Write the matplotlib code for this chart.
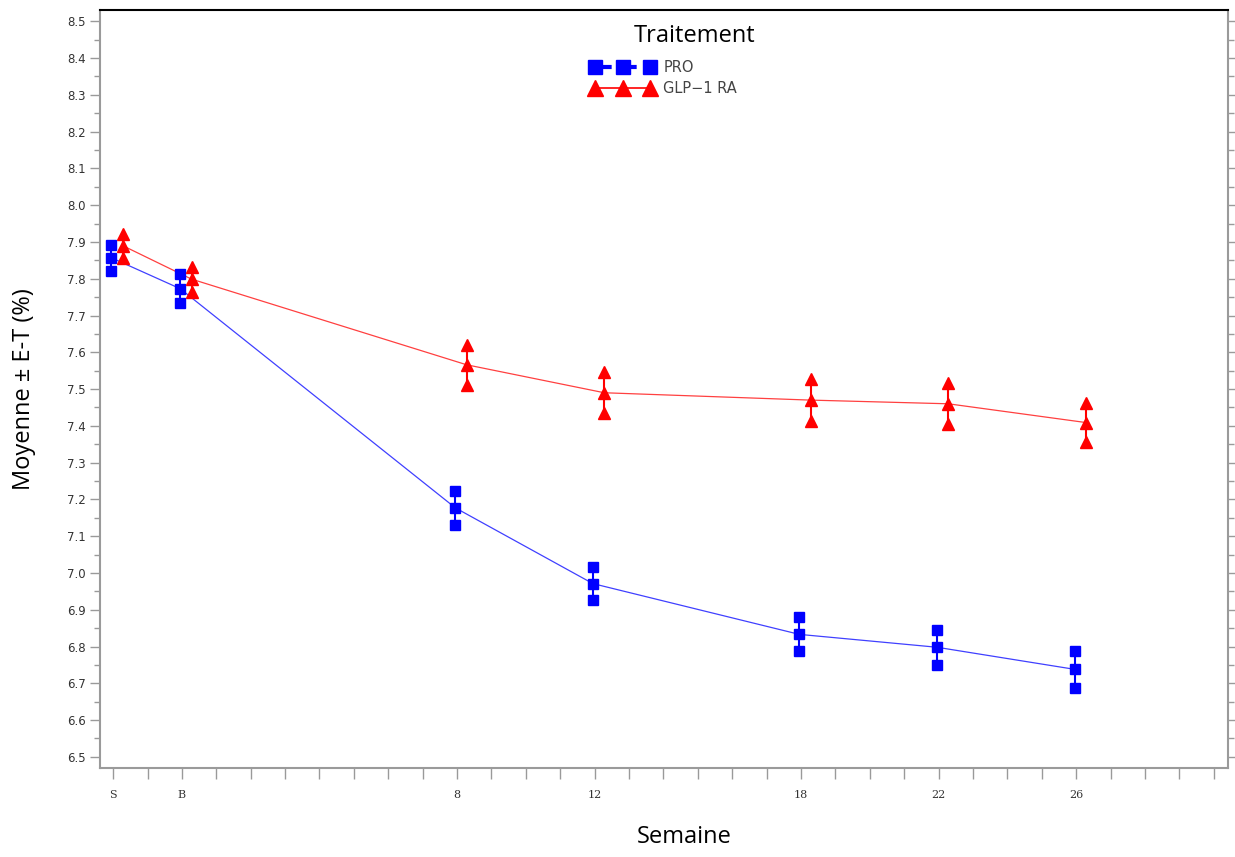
#! /usr/bin/env python3

import numpy as np
import matplotlib
matplotlib.use("Agg")
import matplotlib.pyplot as plt
from matplotlib.lines import Line2D

# semaines (S = -2, B = 0)
weeks = [-2, 0, 8, 12, 18, 22, 26]
week_labels = ["S", "B", "8", "12", "18", "22", "26"]

pro_mean = [7.857, 7.773, 7.177, 6.971, 6.833, 6.798, 6.738]
pro_se = [0.035, 0.040, 0.046, 0.045, 0.046, 0.047, 0.050]

glp_mean = [7.890, 7.799, 7.566, 7.490, 7.470, 7.460, 7.409]
glp_se = [0.033, 0.034, 0.054, 0.056, 0.058, 0.056, 0.052]

series_names = ["PRO", "GLP\u22121 RA"]

fig = plt.figure(figsize=(12.35, 8.57), dpi=100)
ax = fig.add_axes([0.081, 0.104, 0.913, 0.884])

grey = "#9a9a9a"

def draw(x, m, s, color, marker, ms):
    x = np.array(x, dtype=float)
    m = np.array(m)
    s = np.array(s)
    ax.plot(x, m, color=color, lw=0.9, alpha=0.75, zorder=2)
    ax.vlines(x, m - s, m + s, color=color, lw=1.5, zorder=3)
    for yy in (m - s, m, m + s):
        ax.plot(x, yy, ls="none", marker=marker, ms=ms, color=color,
                mec=color, zorder=4)

draw(np.array(weeks) - 0.05, pro_mean, pro_se, "#0000ff", "s", 7.5)
draw(np.array(weeks) + 0.28, glp_mean, glp_se, "#ff0000", "^", 8.5)

ax.set_xlim(-2.38, 30.4)
ax.set_ylim(6.47, 8.53)

xt = list(range(-2, 31))
xl = [week_labels[weeks.index(w)] if w in weeks else "" for w in xt]
ax.set_xticks(xt, xl)
ax.set_yticks(np.round(np.arange(6.5, 8.51, 0.1), 2))
ax.set_yticklabels([f"{v:.1f}" for v in np.arange(6.5, 8.51, 0.1)])
ax.set_yticks(np.arange(6.55, 8.5, 0.1), minor=True)

ax.tick_params(axis="x", direction="out", length=8, width=1, color=grey,
               labelsize=8, labelcolor="#333333", pad=8)
ax.tick_params(axis="y", which="major", direction="out", length=7, width=1,
               color=grey, labelsize=8.5, labelcolor="#333333", right=True)
ax.tick_params(axis="y", which="minor", direction="out", length=4, width=1,
               color=grey, right=True)
for lab in ax.get_xticklabels():
    lab.set_family("DejaVu Serif")

for side in ["left", "right", "bottom"]:
    ax.spines[side].set_color(grey)
    ax.spines[side].set_linewidth(1.5)
ax.spines["top"].set_color("black")
ax.spines["top"].set_linewidth(1.5)

ax.set_ylabel("Moyenne \u00b1 E-T (%)", fontsize=17, family="Open Sans", labelpad=22)
fig.text(0.554, 0.016, "Semaine", fontsize=17, family="Open Sans", ha="center")

handles = [
    Line2D([], [], color="#0000ff", ls="--", lw=3, marker="s", ms=10,
           dashes=(4, 2)),
    Line2D([], [], color="#ff0000", lw=1.2, marker="^", ms=11),
]
leg = ax.legend(handles, series_names, loc="upper center",
                bbox_to_anchor=(0.5, 0.952), frameon=False, numpoints=3,
                handlelength=4.4, handletextpad=0.6, fontsize=10.5,
                labelspacing=0.45, markerfirst=True)
for t in leg.get_texts():
    t.set_color("#444444")

fig.text(0.562, 0.958, "Traitement", fontsize=17, family="Open Sans",
         ha="center", va="center",
         bbox=dict(facecolor="white", edgecolor="none", pad=8), zorder=10)

fig.savefig("out.png", dpi=100)
